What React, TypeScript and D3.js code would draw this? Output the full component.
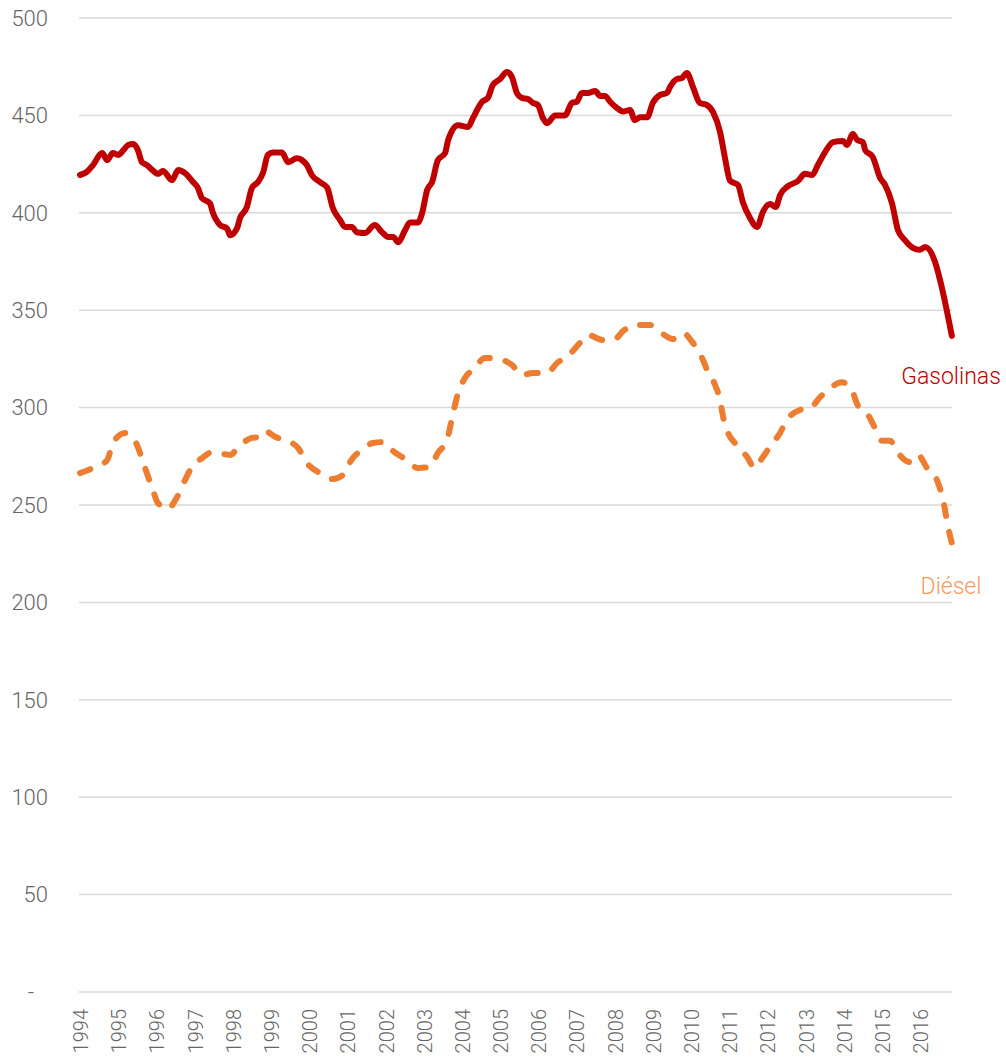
import { useRef, useEffect } from 'react';
import * as d3 from 'd3';

// years since Jan 1994 (monthly series)
const gasT = [0, 0.18, 0.34, 0.58, 0.71, 0.86, 1.0, 1.13, 1.26, 1.39, 1.52, 1.62, 1.75, 1.89, 2.04, 2.17, 2.41, 2.57, 2.75, 2.96, 3.09, 3.19, 3.4, 3.48, 3.67, 3.85, 3.93, 4.11, 4.19, 4.37, 4.5, 4.66, 4.79, 4.92, 5.05, 5.29, 5.45, 5.68, 5.94, 6.07, 6.28, 6.47, 6.62, 6.81, 6.94, 7.12, 7.25, 7.46, 7.72, 7.91, 8.07, 8.2, 8.33, 8.51, 8.64, 8.85, 8.96, 9.09, 9.22, 9.37, 9.56, 9.64, 9.9, 10.16, 10.29, 10.53, 10.68, 10.81, 11.0, 11.18, 11.31, 11.44, 11.57, 11.73, 11.86, 11.99, 12.12, 12.23, 12.44, 12.7, 12.88, 13.01, 13.14, 13.3, 13.49, 13.62, 13.75, 13.88, 14.06, 14.22, 14.4, 14.53, 14.66, 14.85, 15.0, 15.19, 15.37, 15.45, 15.63, 15.76, 15.89, 16.05, 16.23, 16.42, 16.58, 16.76, 16.89, 17.02, 17.23, 17.36, 17.54, 17.73, 17.88, 18.07, 18.22, 18.33, 18.54, 18.8, 18.98, 19.17, 19.32, 19.51, 19.72, 19.98, 20.08, 20.24, 20.35, 20.5, 20.56, 20.76, 20.95, 21.08, 21.26, 21.42, 21.6, 21.81, 21.99, 22.13, 22.39, 22.52, 22.83];
const gasolinas = [419.4, 421, 424.5, 430.7, 427, 430.7, 429.7, 432, 434.8, 435.3, 432, 426, 424.5, 422, 420, 421.5, 416.8, 422, 420.4, 415.8, 412.7, 407.6, 405, 400, 393.7, 392, 388.5, 392, 397.3, 403, 412.7, 415.8, 420.4, 429.7, 431, 431, 426, 428, 424.5, 419.4, 415.8, 413, 402.5, 396.3, 392.7, 392.7, 390, 389.6, 393.7, 390, 387.6, 387.6, 385, 391, 395, 395, 400, 411.7, 415.8, 427, 430.7, 437.4, 445, 444, 448.7, 457, 459, 465.6, 468.7, 472.3, 469.7, 461.5, 459, 458.4, 456.4, 455.3, 448.7, 446, 450, 450, 456.4, 457, 461.5, 461.5, 462.5, 460, 460, 457, 453.8, 452, 452.8, 447.6, 449, 449, 456.4, 460.5, 461.5, 464.6, 468.7, 469.2, 471.8, 464.6, 456.4, 455.3, 451.5, 441.5, 428, 416.5, 414.3, 405.3, 397.5, 392.7, 400.4, 404.5, 403, 409, 413.7, 416.3, 420, 419.4, 424.5, 431.2, 436.3, 436.9, 434.8, 440.5, 437.4, 436.3, 432.2, 428.6, 417.9, 414.3, 405, 391, 386, 382, 381, 382.4, 374.7, 365.5, 336.8];

const dieT = [0, 0.34, 0.71, 0.86, 1.18, 1.36, 1.47, 1.62, 1.75, 1.89, 2.04, 2.3, 2.54, 2.75, 2.93, 3.19, 3.48, 3.93, 4.19, 4.5, 4.71, 4.84, 5.11, 5.42, 5.71, 5.94, 6.28, 6.62, 6.94, 7.07, 7.38, 7.67, 7.93, 8.2, 8.56, 8.85, 9.16, 9.37, 9.61, 9.77, 9.9, 10.08, 10.34, 10.6, 10.95, 11.31, 11.57, 11.86, 12.23, 12.49, 12.78, 13.09, 13.3, 13.69, 14.01, 14.22, 14.53, 14.93, 15.19, 15.53, 15.79, 16.05, 16.29, 16.42, 16.63, 16.76, 16.84, 16.97, 17.15, 17.47, 17.67, 17.86, 18.07, 18.33, 18.51, 18.85, 19.12, 19.38, 19.64, 19.95, 20.21, 20.37, 20.61, 20.82, 21.0, 21.21, 21.42, 21.73, 21.94, 22.18, 22.44, 22.6, 22.73, 22.83];
const diesel = [266.4, 269, 273, 281.8, 287, 285, 281.8, 274, 266.4, 258.7, 251, 248, 254, 262.8, 269.5, 274, 277.2, 275.7, 280.8, 284.4, 285, 288, 285, 282.9, 279.3, 271.6, 266.4, 263.3, 266.4, 272, 278.2, 281.8, 282.3, 277.7, 273, 269, 269.5, 276.7, 283.4, 297.2, 307.5, 315.2, 320.3, 325.5, 325, 321.9, 316.7, 317.8, 317.8, 322.9, 326.5, 333.2, 337.3, 334.7, 335.2, 339.3, 342.4, 342.4, 338.8, 335.2, 338.3, 333.2, 325.5, 319.3, 311.6, 303.9, 295.2, 287, 281.8, 274.6, 269, 274, 280, 287, 293.6, 298.8, 299.8, 305.4, 310, 313, 309, 301, 297, 289.5, 283, 283, 276.7, 272, 275.7, 269, 262.8, 252.6, 238.7, 230.5];

const years = d3.range(1994, 2017);
const yTicks = [0, 50, 100, 150, 200, 250, 300, 350, 400, 450, 500];

const App = () => {
  const svgRef = useRef<SVGSVGElement>(null);

  useEffect(() => {
    const svg = d3.select(svgRef.current);
    svg.selectAll('*').remove();
    const font = 'Roboto, "Open Sans", sans-serif';

    const x = d3.scaleLinear().domain([0, 274 / 12]).range([80, 952]);
    const y = d3.scaleLinear().domain([0, 500]).range([992, 18]);

    // grid
    svg.append('g')
      .selectAll('line')
      .data(yTicks)
      .join('line')
      .attr('x1', 79).attr('x2', 952)
      .attr('y1', d => y(d)).attr('y2', d => y(d))
      .attr('stroke', '#d9d9d9')
      .attr('stroke-width', 1.5);

    // y labels
    svg.append('g')
      .selectAll('text')
      .data(yTicks)
      .join('text')
      .attr('x', d => (d === 0 ? 34 : 48))
      .attr('y', d => y(d))
      .attr('dy', '0.35em')
      .attr('text-anchor', 'end')
      .attr('font-family', font)
      .attr('font-weight', 300)
      .attr('font-size', 22)
      .attr('fill', '#666')
      .text(d => (d === 0 ? '-' : String(d)));

    // x labels
    svg.append('g')
      .selectAll('text')
      .data(years)
      .join('text')
      .attr('transform', d => `translate(${x(d - 1994) + 1},1009) rotate(-90)`)
      .attr('dy', '0.35em')
      .attr('text-anchor', 'end')
      .attr('font-family', font)
      .attr('font-weight', 300)
      .attr('font-size', 20)
      .attr('fill', '#666')
      .text(d => String(d));

    const line = d3.line<[number, number]>()
      .x(d => x(d[0]))
      .y(d => y(d[1]))
      .curve(d3.curveMonotoneX);

    svg.append('path')
      .datum(dieT.map((t, i) => [t, diesel[i]] as [number, number]))
      .attr('fill', 'none')
      .attr('stroke', '#ed7d31')
      .attr('stroke-width', 6)
      .attr('stroke-linecap', 'round')
      .attr('stroke-linejoin', 'round')
      .attr('stroke-dasharray', '11,16')
      .attr('d', line);

    svg.append('path')
      .datum(gasT.map((t, i) => [t, gasolinas[i]] as [number, number]))
      .attr('fill', 'none')
      .attr('stroke', '#c00000')
      .attr('stroke-width', 6)
      .attr('stroke-linecap', 'round')
      .attr('stroke-linejoin', 'round')
      .attr('d', line);

    svg.append('text')
      .attr('x', 951).attr('y', 384)
      .attr('text-anchor', 'middle')
      .attr('font-family', font)
      .attr('font-weight', 300)
      .attr('font-size', 23)
      .attr('fill', '#c00000')
      .text('Gasolinas');

    svg.append('text')
      .attr('x', 951).attr('y', 594)
      .attr('text-anchor', 'middle')
      .attr('font-family', font)
      .attr('font-weight', 300)
      .attr('font-size', 23)
      .attr('fill', '#f19a5c')
      .text('Diésel');
  }, []);

  return (
    <svg ref={svgRef} width={1006} height={1058}
      style={{ position: 'absolute', left: 0, top: 0, background: '#fff' }} />
  );
};

export default App;
